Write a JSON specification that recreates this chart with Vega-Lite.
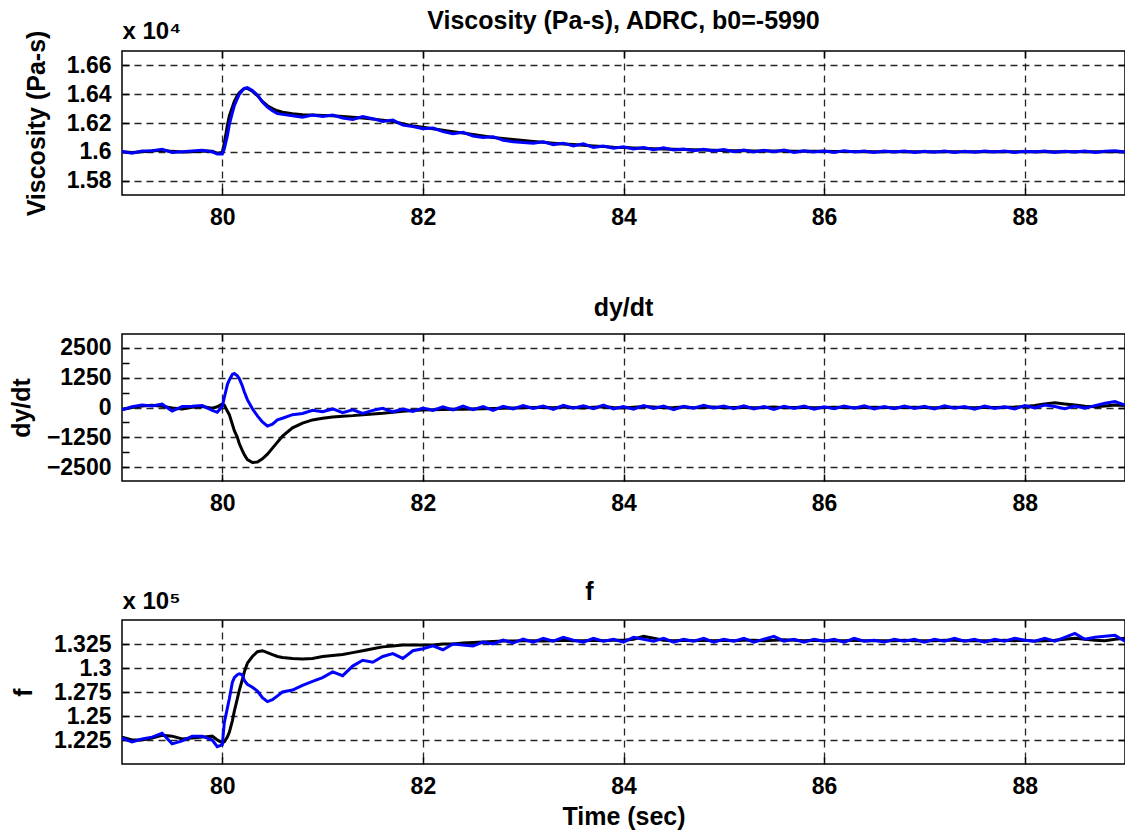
{
  "$schema": "https://vega.github.io/schema/vega-lite/v6.json",
  "padding": {"left": 8, "top": 8, "right": 1, "bottom": 2},
  "bounds": "flush",
  "spacing": 139,
  "background": "white",
  "config": {
    "font": "Liberation Sans",
    "view": {"stroke": "#000", "strokeWidth": 1.5},
    "axis": {
      "labelFont": "Liberation Sans", "labelFontSize": 23, "labelFontWeight": "bold", "labelColor": "#000",
      "titleFont": "Liberation Sans", "titleFontSize": 25, "titleFontWeight": "bold", "titleColor": "#000",
      "domain": false, "tickColor": "#000", "tickSize": -7, "tickWidth": 1.5,
      "gridColor": "#000", "gridDash": [7, 5], "gridWidth": 1.3, "gridOpacity": 0.85,
      "labelPadding": 18, "labelOverlap": false, "labelFlush": false, "labelBound": false
    },
    "title": {"font": "Liberation Sans", "fontSize": 25, "fontWeight": "bold", "color": "#000", "anchor": "middle", "frame": "group", "baseline": "alphabetic"}
  },
  "data": {"values": [
    {"t": 79.0, "vk": 16000, "vb": 16002, "dk": -80, "db": -100, "fk": 122800, "fb": 122700},
    {"t": 79.1, "vk": 15995, "vb": 15990, "dk": 0, "db": 30, "fk": 122500, "fb": 122300},
    {"t": 79.2, "vk": 16000, "vb": 16005, "dk": 60, "db": 100, "fk": 122500, "fb": 122600},
    {"t": 79.3, "vk": 16005, "vb": 16008, "dk": 90, "db": 60, "fk": 122700, "fb": 122800},
    {"t": 79.4, "vk": 16010, "vb": 16018, "dk": 50, "db": 140, "fk": 123000, "fb": 123200},
    {"t": 79.5, "vk": 16003, "vb": 15995, "dk": -20, "db": -150, "fk": 122900, "fb": 122100},
    {"t": 79.6, "vk": 15998, "vb": 16000, "dk": -60, "db": 40, "fk": 122600, "fb": 122400},
    {"t": 79.7, "vk": 16000, "vb": 16006, "dk": 10, "db": 50, "fk": 122700, "fb": 122900},
    {"t": 79.8, "vk": 16005, "vb": 16010, "dk": 40, "db": 80, "fk": 122800, "fb": 122900},
    {"t": 79.9, "vk": 16004, "vb": 16000, "dk": -30, "db": -120, "fk": 122900, "fb": 122500},
    {"t": 79.95, "vk": 15990, "vb": 15985, "dk": 30, "db": -200, "fk": 122500, "fb": 121800},
    {"t": 80.0, "vk": 15995, "vb": 15985, "dk": 150, "db": 50, "fk": 122200, "fb": 122000},
    {"t": 80.02, "vk": 16060, "vb": 16020, "dk": 100, "db": 420, "fk": 122300, "fb": 124300},
    {"t": 80.05, "vk": 16180, "vb": 16110, "dk": -150, "db": 950, "fk": 122800, "fb": 125800},
    {"t": 80.07, "vk": 16250, "vb": 16190, "dk": -300, "db": 1150, "fk": 123300, "fb": 126800},
    {"t": 80.1, "vk": 16310, "vb": 16270, "dk": -700, "db": 1380, "fk": 124500, "fb": 128500},
    {"t": 80.12, "vk": 16350, "vb": 16320, "dk": -970, "db": 1420, "fk": 125500, "fb": 129000},
    {"t": 80.15, "vk": 16390, "vb": 16370, "dk": -1250, "db": 1330, "fk": 126800, "fb": 129300},
    {"t": 80.17, "vk": 16410, "vb": 16400, "dk": -1520, "db": 1200, "fk": 127700, "fb": 129400},
    {"t": 80.2, "vk": 16430, "vb": 16425, "dk": -1800, "db": 900, "fk": 128800, "fb": 129300},
    {"t": 80.22, "vk": 16440, "vb": 16440, "dk": -1980, "db": 650, "fk": 129600, "fb": 128700},
    {"t": 80.25, "vk": 16440, "vb": 16445, "dk": -2180, "db": 330, "fk": 130500, "fb": 128300},
    {"t": 80.3, "vk": 16420, "vb": 16425, "dk": -2300, "db": -50, "fk": 131200, "fb": 128000},
    {"t": 80.35, "vk": 16390, "vb": 16395, "dk": -2280, "db": -350, "fk": 131700, "fb": 127600},
    {"t": 80.4, "vk": 16350, "vb": 16345, "dk": -2150, "db": -600, "fk": 131800, "fb": 126900},
    {"t": 80.45, "vk": 16320, "vb": 16310, "dk": -1950, "db": -780, "fk": 131600, "fb": 126500},
    {"t": 80.5, "vk": 16300, "vb": 16285, "dk": -1700, "db": -700, "fk": 131400, "fb": 126700},
    {"t": 80.55, "vk": 16285, "vb": 16265, "dk": -1450, "db": -520, "fk": 131200, "fb": 127100},
    {"t": 80.6, "vk": 16275, "vb": 16260, "dk": -1200, "db": -450, "fk": 131100, "fb": 127500},
    {"t": 80.7, "vk": 16265, "vb": 16250, "dk": -850, "db": -300, "fk": 131000, "fb": 127700},
    {"t": 80.8, "vk": 16258, "vb": 16240, "dk": -650, "db": -250, "fk": 130950, "fb": 128200},
    {"t": 80.9, "vk": 16255, "vb": 16255, "dk": -520, "db": -120, "fk": 131000, "fb": 128600},
    {"t": 81.0, "vk": 16252, "vb": 16245, "dk": -450, "db": -180, "fk": 131200, "fb": 129000},
    {"t": 81.1, "vk": 16250, "vb": 16255, "dk": -400, "db": -60, "fk": 131300, "fb": 129600},
    {"t": 81.2, "vk": 16245, "vb": 16235, "dk": -370, "db": -220, "fk": 131400, "fb": 129200},
    {"t": 81.3, "vk": 16240, "vb": 16225, "dk": -340, "db": -100, "fk": 131600, "fb": 130200},
    {"t": 81.4, "vk": 16235, "vb": 16245, "dk": -300, "db": -250, "fk": 131800, "fb": 130800},
    {"t": 81.5, "vk": 16228, "vb": 16230, "dk": -270, "db": -120, "fk": 132000, "fb": 130600},
    {"t": 81.6, "vk": 16220, "vb": 16210, "dk": -240, "db": -30, "fk": 132200, "fb": 131200},
    {"t": 81.7, "vk": 16210, "vb": 16220, "dk": -200, "db": -180, "fk": 132300, "fb": 131500},
    {"t": 81.8, "vk": 16195, "vb": 16185, "dk": -160, "db": -60, "fk": 132400, "fb": 131000},
    {"t": 81.9, "vk": 16180, "vb": 16175, "dk": -130, "db": -160, "fk": 132400, "fb": 131800},
    {"t": 82.0, "vk": 16170, "vb": 16160, "dk": -100, "db": -20, "fk": 132400, "fb": 132000},
    {"t": 82.1, "vk": 16160, "vb": 16165, "dk": -90, "db": -120, "fk": 132400, "fb": 132300},
    {"t": 82.2, "vk": 16150, "vb": 16140, "dk": -80, "db": 30, "fk": 132500, "fb": 131900},
    {"t": 82.3, "vk": 16140, "vb": 16125, "dk": -75, "db": -100, "fk": 132500, "fb": 132500},
    {"t": 82.4, "vk": 16130, "vb": 16135, "dk": -70, "db": 60, "fk": 132600, "fb": 132400},
    {"t": 82.5, "vk": 16120, "vb": 16110, "dk": -60, "db": -90, "fk": 132650, "fb": 132300},
    {"t": 82.6, "vk": 16110, "vb": 16100, "dk": -50, "db": 40, "fk": 132700, "fb": 132700},
    {"t": 82.7, "vk": 16100, "vb": 16105, "dk": -40, "db": -120, "fk": 132750, "fb": 132500},
    {"t": 82.8, "vk": 16092, "vb": 16080, "dk": -30, "db": 50, "fk": 132800, "fb": 132900},
    {"t": 82.9, "vk": 16085, "vb": 16070, "dk": -20, "db": -60, "fk": 132800, "fb": 132600},
    {"t": 83.0, "vk": 16078, "vb": 16065, "dk": -10, "db": 80, "fk": 132850, "fb": 133000},
    {"t": 83.1, "vk": 16072, "vb": 16060, "dk": 0, "db": -40, "fk": 132850, "fb": 132700},
    {"t": 83.2, "vk": 16066, "vb": 16070, "dk": 10, "db": 60, "fk": 132800, "fb": 133100},
    {"t": 83.3, "vk": 16060, "vb": 16050, "dk": -10, "db": -80, "fk": 132850, "fb": 132800},
    {"t": 83.4, "vk": 16055, "vb": 16060, "dk": 20, "db": 90, "fk": 132900, "fb": 133200},
    {"t": 83.5, "vk": 16050, "vb": 16040, "dk": 0, "db": -30, "fk": 132850, "fb": 132900},
    {"t": 83.6, "vk": 16045, "vb": 16055, "dk": -20, "db": 70, "fk": 132850, "fb": 132700},
    {"t": 83.7, "vk": 16040, "vb": 16030, "dk": 10, "db": -50, "fk": 132900, "fb": 133100},
    {"t": 83.8, "vk": 16036, "vb": 16040, "dk": 30, "db": 100, "fk": 132850, "fb": 132800},
    {"t": 83.9, "vk": 16032, "vb": 16025, "dk": 0, "db": -60, "fk": 132900, "fb": 133000},
    {"t": 84.0, "vk": 16030, "vb": 16035, "dk": -20, "db": 40, "fk": 132900, "fb": 132700},
    {"t": 84.1, "vk": 16027, "vb": 16020, "dk": 10, "db": -70, "fk": 133000, "fb": 133200},
    {"t": 84.2, "vk": 16025, "vb": 16030, "dk": 40, "db": 80, "fk": 133300, "fb": 133000},
    {"t": 84.3, "vk": 16022, "vb": 16015, "dk": 20, "db": -40, "fk": 133100, "fb": 132800},
    {"t": 84.4, "vk": 16020, "vb": 16028, "dk": -10, "db": 60, "fk": 132900, "fb": 133100},
    {"t": 84.5, "vk": 16018, "vb": 16012, "dk": 0, "db": -90, "fk": 132850, "fb": 132700},
    {"t": 84.6, "vk": 16016, "vb": 16020, "dk": 20, "db": 50, "fk": 132900, "fb": 133000},
    {"t": 84.7, "vk": 16014, "vb": 16008, "dk": -10, "db": -30, "fk": 132850, "fb": 132800},
    {"t": 84.8, "vk": 16012, "vb": 16018, "dk": 0, "db": 90, "fk": 132900, "fb": 133100},
    {"t": 84.9, "vk": 16010, "vb": 16005, "dk": 20, "db": -20, "fk": 132850, "fb": 132700},
    {"t": 85.0, "vk": 16009, "vb": 16015, "dk": -10, "db": 60, "fk": 132900, "fb": 133000},
    {"t": 85.1, "vk": 16008, "vb": 16000, "dk": 0, "db": -50, "fk": 132850, "fb": 132800},
    {"t": 85.2, "vk": 16007, "vb": 16012, "dk": 10, "db": 70, "fk": 132900, "fb": 133100},
    {"t": 85.3, "vk": 16006, "vb": 15998, "dk": -10, "db": -60, "fk": 132900, "fb": 132700},
    {"t": 85.4, "vk": 16006, "vb": 16010, "dk": 0, "db": 40, "fk": 132850, "fb": 133000},
    {"t": 85.5, "vk": 16005, "vb": 16000, "dk": 20, "db": -80, "fk": 132900, "fb": 133300},
    {"t": 85.6, "vk": 16005, "vb": 16012, "dk": -10, "db": 50, "fk": 132950, "fb": 132800},
    {"t": 85.7, "vk": 16004, "vb": 15996, "dk": 0, "db": -40, "fk": 132900, "fb": 133000},
    {"t": 85.8, "vk": 16004, "vb": 16008, "dk": 10, "db": 60, "fk": 132850, "fb": 132700},
    {"t": 85.9, "vk": 16003, "vb": 15998, "dk": -10, "db": -70, "fk": 132900, "fb": 133000},
    {"t": 86.0, "vk": 16003, "vb": 16005, "dk": 0, "db": 30, "fk": 132850, "fb": 132800},
    {"t": 86.1, "vk": 16002, "vb": 15995, "dk": 10, "db": -50, "fk": 132850, "fb": 133000},
    {"t": 86.2, "vk": 16002, "vb": 16008, "dk": 0, "db": 60, "fk": 132850, "fb": 132700},
    {"t": 86.3, "vk": 16002, "vb": 15998, "dk": -10, "db": -30, "fk": 132900, "fb": 133100},
    {"t": 86.4, "vk": 16001, "vb": 16006, "dk": 0, "db": 70, "fk": 132850, "fb": 132800},
    {"t": 86.5, "vk": 16001, "vb": 15996, "dk": 10, "db": -60, "fk": 132850, "fb": 132900},
    {"t": 86.6, "vk": 16001, "vb": 16005, "dk": 0, "db": 40, "fk": 132850, "fb": 132700},
    {"t": 86.7, "vk": 16001, "vb": 15998, "dk": -10, "db": -50, "fk": 132850, "fb": 133000},
    {"t": 86.8, "vk": 16000, "vb": 16006, "dk": 0, "db": 60, "fk": 132900, "fb": 132800},
    {"t": 86.9, "vk": 16000, "vb": 15995, "dk": 10, "db": -40, "fk": 132850, "fb": 133000},
    {"t": 87.0, "vk": 16000, "vb": 16004, "dk": 0, "db": 50, "fk": 132850, "fb": 132700},
    {"t": 87.1, "vk": 16000, "vb": 15997, "dk": -10, "db": -60, "fk": 132850, "fb": 133000},
    {"t": 87.2, "vk": 16000, "vb": 16006, "dk": 0, "db": 70, "fk": 132900, "fb": 132800},
    {"t": 87.3, "vk": 16000, "vb": 15996, "dk": 10, "db": -30, "fk": 132900, "fb": 133100},
    {"t": 87.4, "vk": 16000, "vb": 16004, "dk": 0, "db": 40, "fk": 132850, "fb": 132800},
    {"t": 87.5, "vk": 16000, "vb": 15997, "dk": -10, "db": -70, "fk": 132850, "fb": 133000},
    {"t": 87.6, "vk": 16000, "vb": 16006, "dk": 10, "db": 60, "fk": 132850, "fb": 132700},
    {"t": 87.7, "vk": 16000, "vb": 15998, "dk": 0, "db": -40, "fk": 132850, "fb": 133000},
    {"t": 87.8, "vk": 16000, "vb": 16005, "dk": 10, "db": 30, "fk": 132900, "fb": 132800},
    {"t": 87.9, "vk": 16000, "vb": 15996, "dk": 20, "db": -60, "fk": 132850, "fb": 133100},
    {"t": 88.0, "vk": 16000, "vb": 16004, "dk": 40, "db": 80, "fk": 132900, "fb": 132900},
    {"t": 88.1, "vk": 16000, "vb": 15998, "dk": 80, "db": -20, "fk": 132800, "fb": 132800},
    {"t": 88.2, "vk": 16000, "vb": 16006, "dk": 150, "db": 100, "fk": 132850, "fb": 133100},
    {"t": 88.3, "vk": 16000, "vb": 15996, "dk": 200, "db": 40, "fk": 132900, "fb": 132800},
    {"t": 88.4, "vk": 16000, "vb": 16004, "dk": 150, "db": -50, "fk": 133000, "fb": 133200},
    {"t": 88.5, "vk": 16000, "vb": 15998, "dk": 100, "db": 60, "fk": 133100, "fb": 133600},
    {"t": 88.6, "vk": 16000, "vb": 16005, "dk": 50, "db": -30, "fk": 133000, "fb": 133000},
    {"t": 88.7, "vk": 16000, "vb": 15996, "dk": 30, "db": 80, "fk": 132900, "fb": 133200},
    {"t": 88.8, "vk": 16000, "vb": 16004, "dk": 60, "db": 180, "fk": 132850, "fb": 133300},
    {"t": 88.9, "vk": 16000, "vb": 16008, "dk": 100, "db": 250, "fk": 133000, "fb": 133400},
    {"t": 89.0, "vk": 16000, "vb": 15998, "dk": 80, "db": 100, "fk": 133100, "fb": 132800}
  ]},
  "vconcat": [
    {
      "width": 1003, "height": 144,
      "title": {"text": "Viscosity (Pa-s), ADRC, b0=-5990", "offset": -15},
      "layer": [
        {"mark": {"type": "line", "color": "#000", "strokeWidth": 3, "clip": true},
         "encoding": {
           "x": {"field": "t", "type": "quantitative", "scale": {"domain": [79, 89], "nice": false, "zero": false},
                 "axis": {"values": [80, 82, 84, 86, 88], "title": null, "grid": true}},
           "y": {"field": "vk", "type": "quantitative", "scale": {"domain": [15700, 16700], "nice": false, "zero": false},
                 "axis": {"values": [15800, 16000, 16200, 16400, 16600], "labelExpr": "format(datum.value/10000, '.3~f')", "title": "Viscosity (Pa-s)", "grid": true, "titlePadding": 17}}
         }},
        {"mark": {"type": "line", "color": "#0000ff", "strokeWidth": 3, "clip": true},
         "encoding": {
           "x": {"field": "t", "type": "quantitative", "scale": {"domain": [79, 89], "nice": false, "zero": false},
                 "axis": {"orient": "top", "values": [80, 82, 84, 86, 88], "labels": false, "grid": false, "title": "x 10⁴", "titleAnchor": "start", "titleAlign": "left", "titleBaseline": "alphabetic", "titlePadding": 12, "titleFontSize": 24}},
           "y": {"field": "vb", "type": "quantitative", "scale": {"domain": [15700, 16700], "nice": false, "zero": false},
                 "axis": {"orient": "right", "values": [15800, 16000, 16200, 16400, 16600], "labels": false, "grid": false, "title": null}}
         }}
      ],
      "resolve": {"axis": {"x": "independent", "y": "independent"}}
    },
    {
      "width": 1003, "height": 147,
      "title": {"text": "dy/dt", "offset": 12},
      "layer": [
        {"mark": {"type": "line", "color": "#000", "strokeWidth": 3, "clip": true},
         "encoding": {
           "x": {"field": "t", "type": "quantitative", "scale": {"domain": [79, 89], "nice": false, "zero": false},
                 "axis": {"values": [80, 82, 84, 86, 88], "title": null, "grid": true}},
           "y": {"field": "dk", "type": "quantitative", "scale": {"domain": [-3075, 3075], "nice": false, "zero": false},
                 "axis": {"values": [-2500, -1875, -1250, -625, 0, 625, 1250, 1875, 2500], "labelExpr": "datum.value % 1250 == 0 ? format(datum.value, 'd') : ''", "title": "dy/dt", "grid": false, "titlePadding": 12}}
         }},
        {"mark": {"type": "line", "color": "#0000ff", "strokeWidth": 3, "clip": true},
         "encoding": {
           "x": {"field": "t", "type": "quantitative", "scale": {"domain": [79, 89], "nice": false, "zero": false},
                 "axis": {"orient": "top", "values": [80, 82, 84, 86, 88], "labels": false, "grid": false, "title": null}},
           "y": {"field": "db", "type": "quantitative", "scale": {"domain": [-3075, 3075], "nice": false, "zero": false},
                 "axis": {"orient": "right", "values": [-2500, -1250, 0, 1250, 2500], "labels": false, "grid": true, "title": null}}
         }}
      ],
      "resolve": {"axis": {"x": "independent", "y": "independent"}}
    },
    {
      "width": 1003, "height": 144,
      "title": {"text": "f", "offset": -16, "dx": -34},
      "layer": [
        {"mark": {"type": "line", "color": "#000", "strokeWidth": 3, "clip": true},
         "encoding": {
           "x": {"field": "t", "type": "quantitative", "scale": {"domain": [79, 89], "nice": false, "zero": false},
                 "axis": {"values": [80, 82, 84, 86, 88], "title": "Time (sec)", "grid": true, "titlePadding": 6}},
           "y": {"field": "fk", "type": "quantitative", "scale": {"domain": [120000, 135000], "nice": false, "zero": false},
                 "axis": {"values": [122500, 125000, 127500, 130000, 132500], "labelExpr": "format(datum.value/100000, '.3~f')", "title": "f", "grid": true, "titlePadding": 17}}
         }},
        {"mark": {"type": "line", "color": "#0000ff", "strokeWidth": 3, "clip": true},
         "encoding": {
           "x": {"field": "t", "type": "quantitative", "scale": {"domain": [79, 89], "nice": false, "zero": false},
                 "axis": {"orient": "top", "values": [80, 82, 84, 86, 88], "labels": false, "grid": false, "title": "x 10⁵", "titleAnchor": "start", "titleAlign": "left", "titleBaseline": "alphabetic", "titlePadding": 11, "titleFontSize": 24}},
           "y": {"field": "fb", "type": "quantitative", "scale": {"domain": [120000, 135000], "nice": false, "zero": false},
                 "axis": {"orient": "right", "values": [122500, 125000, 127500, 130000, 132500], "labels": false, "grid": false, "title": null}}
         }}
      ],
      "resolve": {"axis": {"x": "independent", "y": "independent"}}
    }
  ]
}
